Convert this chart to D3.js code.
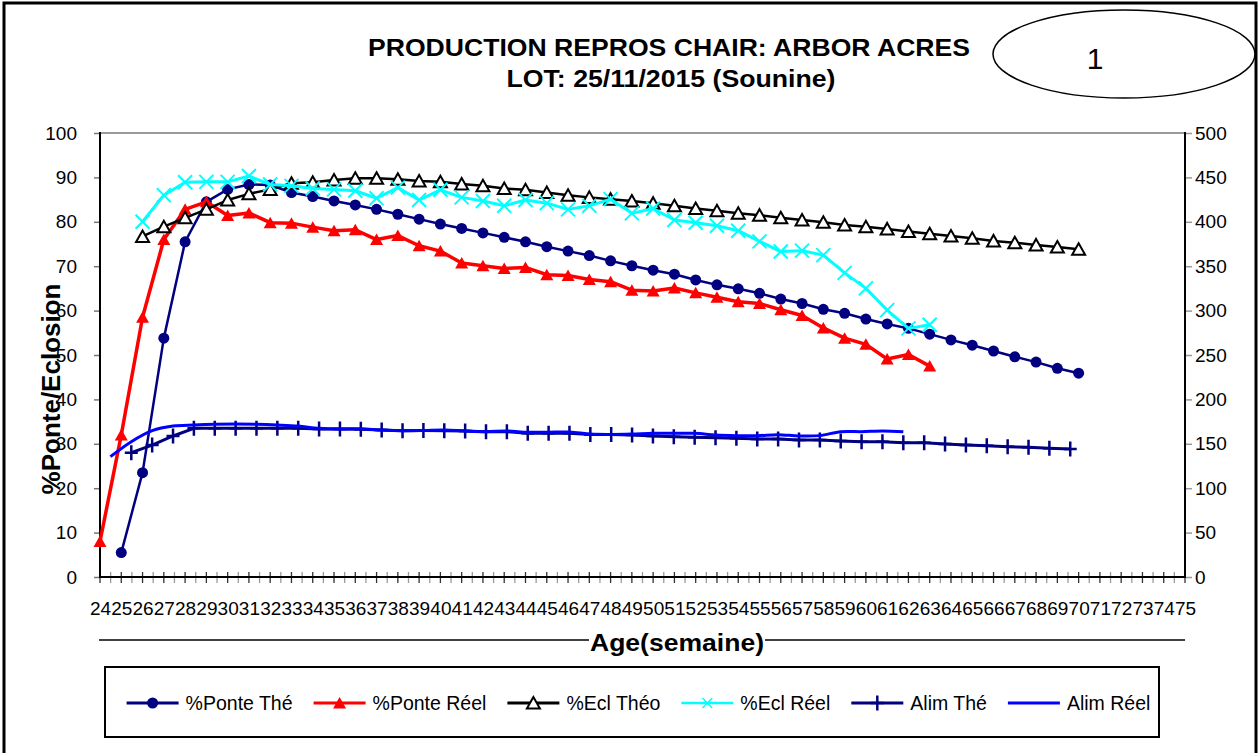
<!DOCTYPE html>
<html><head><meta charset="utf-8">
<script src="https://cdn.jsdelivr.net/npm/d3@7"></script>
<style>
body{margin:0;background:#fff}
svg{display:block}
text{font-family:"Liberation Sans",Arial,Helvetica,sans-serif;fill:#000}
</style>
</head><body>
<svg id="c" width="1258" height="753"></svg>
<script>
// ---------- DATA ----------
const ages = [24,25,26,27,28,29,30,31,32,33,34,35,36,37,38,39,40,41,42,43,44,45,46,47,48,49,
              50,51,52,53,54,55,56,57,58,59,60,61,62,63,64,65,66,67,68,69,70,71,72,73,74,75];
const leftTicks = [0,10,20,30,40,50,60,70,80,90,100];
const rightTicks = [0,50,100,150,200,250,300,350,400,450,500];

// %Ponte Thé (ages 25..70)
const ponteTheStart = 25;
const ponteThe = [5.5,23.5,53.8,75.5,84.5,87.3,88.4,88.3,86.6,85.7,84.7,83.8,82.8,81.7,80.6,79.5,78.5,77.5,
  76.5,75.5,74.4,73.4,72.4,71.2,70.1,69.1,68.2,66.9,65.8,64.9,63.9,62.6,61.6,60.3,59.4,58.1,57,56,54.7,53.4,
  52.2,50.9,49.6,48.4,47,45.9];
// %Ponte Réel (ages 24..63)
const ponteReelStart = 24;
const ponteReel = [8,32,58.5,76,82.8,84.5,81.4,82,79.8,79.7,78.8,78,78.2,76,76.9,74.6,73.4,70.7,70.1,69.5,
  69.7,68.1,67.9,67,66.5,64.6,64.4,65.1,64,63,62,61.6,60.2,58.9,56.1,53.8,52.4,49.1,50.1,47.5];
// %Ecl Théo (ages 26..70)
const eclTheoStart = 26;
const eclTheo = [76.7,78.9,80.9,82.8,84.9,86.3,87.3,88.7,88.9,89.4,89.8,89.8,89.6,89.2,89,88.5,88.1,87.5,
  87.2,86.6,86,85.5,85.1,84.7,84.2,83.6,83,82.5,81.9,81.5,80.9,80.4,79.9,79.3,78.9,78.4,77.8,77.3,76.8,76.3,
  75.7,75.3,74.8,74.3,73.8];
// %Ecl Réel (ages 26..63)
const eclReelStart = 26;
const eclReel = [80,86,88.9,89,89,90.3,88.4,88.1,87.5,87.3,87,85.3,87.7,84.9,87.2,85.5,84.7,83.6,84.9,84.2,
  82.8,83.6,85.1,81.9,83,80.4,79.8,79.1,78,75.6,73.3,73.5,72.5,68.5,65,60.1,56,56.8];
// Alim Thé (right axis, ages 25..70)
const alimTheStart = 25;
const alimThe = [140,148.6,158.8,167.4,167.4,167.4,167.4,167.4,167.4,166.7,166.7,166.3,165.5,164.8,165,164.8,
  164.4,163.7,163.7,161.8,161.8,161.8,160.6,160.6,159.9,158.8,158,157.3,156.9,156.2,155.4,155.4,154.3,154.3,
  153.2,152.4,152.4,151.3,151.3,149.8,148.6,147.9,146.8,146,144.9,144.1];
// Alim Réel (right axis, ages 24..62)
const alimReelStart = 24;
const alimReel = [135.5,152.4,164.8,170,171.2,172,172.3,172,171.2,170,167.4,166.7,167,165.5,164.8,165,165.5,
  164.4,163.7,164.4,163,163,163.3,161,160.6,161,161.8,161.8,161.8,159.9,159.2,159.2,160.3,158.8,159.2,163.7,
  163.7,164.4,163.7];

const seriesNames = ["%Ponte Thé","%Ponte Réel","%Ecl Théo","%Ecl Réel","Alim Thé","Alim Réel"];
const titleLine1 = "PRODUCTION REPROS CHAIR: ARBOR ACRES";
const titleLine2 = "LOT: 25/11/2015 (Sounine)";
const badge = "1";
const yTitle = "%Ponte/Eclosion";
const xTitle = "Age(semaine)";

// ---------- CHART ----------
const svg = d3.select('#c');
const P = {l:100, r:1185, t:133, b:577};
const xP = d3.scalePoint().domain(ages).range([P.l, P.r]);
const xS = d3.scaleBand().domain(ages).range([P.l, P.r]);
const xSc = a => xS(a) + xS.bandwidth()/2;
const yL = d3.scaleLinear().domain([0,100]).range([P.b, P.t]);
const yR = d3.scaleLinear().domain([0,500]).range([P.b, P.t]);

const toPts = (start, arr) => arr.map((v,i)=>({age:start+i, v}));

// outer frame
svg.append('rect').attr('x',4).attr('y',3).attr('width',1252).attr('height',800)
  .attr('fill','none').attr('stroke','#000').attr('stroke-width',3);

// titles
svg.append('text').attr('x',669).attr('y',56).attr('text-anchor','middle')
  .attr('font-size',24).attr('font-weight','bold')
  .attr('textLength',602).attr('lengthAdjust','spacingAndGlyphs').text(titleLine1);
svg.append('text').attr('x',671).attr('y',87).attr('text-anchor','middle')
  .attr('font-size',24).attr('font-weight','bold')
  .attr('textLength',329).attr('lengthAdjust','spacingAndGlyphs').text(titleLine2);
svg.append('ellipse').attr('cx',1124).attr('cy',54).attr('rx',131).attr('ry',44)
  .attr('fill','none').attr('stroke','#000').attr('stroke-width',1.5);
svg.append('text').attr('x',1095).attr('y',69).attr('text-anchor','middle')
  .attr('font-size',30).text(badge);

// plot area top border
svg.append('line').attr('x1',P.l).attr('x2',P.r).attr('y1',P.t).attr('y2',P.t)
  .attr('stroke','#9a9a9a').attr('stroke-width',2);

// left axis
const gL = svg.append('g').attr('transform',`translate(${P.l},0)`)
  .call(d3.axisLeft(yL).tickValues(leftTicks).tickSize(6).tickPadding(17).tickFormat(d3.format('d')));
gL.select('.domain').remove();
gL.selectAll('line').attr('stroke','#777').attr('stroke-width',1.5);
gL.selectAll('text').attr('font-size',19).attr('font-family','"Liberation Sans",Arial,sans-serif').attr('fill','#000');

// right axis
const gR = svg.append('g').attr('transform',`translate(${P.r},0)`)
  .call(d3.axisRight(yR).tickValues(rightTicks).tickSize(7).tickPadding(3).tickFormat(d3.format('d')));
gR.select('.domain').remove();
gR.selectAll('line').attr('stroke','#999').attr('stroke-width',1.5);
gR.selectAll('text').attr('font-size',19).attr('font-family','"Liberation Sans",Arial,sans-serif').attr('fill','#000');

// bottom axis labels
const gB = svg.append('g').attr('transform',`translate(0,${P.b})`)
  .call(d3.axisBottom(xP).tickSize(0).tickPadding(24.5));
gB.select('.domain').remove();
gB.selectAll('text').attr('font-size',19).attr('font-family','"Liberation Sans",Arial,sans-serif').attr('fill','#000');

// minor ticks on x axis (half category steps)
const step = xP.step()/2;
const nT = Math.round((P.r-P.l)/step);
svg.append('g').selectAll('line').data(d3.range(nT+1)).join('line')
  .attr('x1',k=>P.l+k*step).attr('x2',k=>P.l+k*step)
  .attr('y1',P.b-5).attr('y2',P.b+6)
  .attr('stroke',k=>k%2? '#9a9a9a':'#333').attr('stroke-width',1.3);

// axis lines
svg.append('line').attr('x1',P.l).attr('x2',P.l).attr('y1',P.t-1).attr('y2',P.b)
  .attr('stroke','#000').attr('stroke-width',2);
svg.append('line').attr('x1',P.r).attr('x2',P.r).attr('y1',P.t-1).attr('y2',P.b+1)
  .attr('stroke','#000').attr('stroke-width',2);
svg.append('line').attr('x1',P.l-1).attr('x2',P.r+1).attr('y1',P.b).attr('y2',P.b)
  .attr('stroke','#000').attr('stroke-width',2);

// y title
svg.append('text').attr('transform','translate(60,389) rotate(-90)')
  .attr('text-anchor','middle').attr('font-size',26).attr('font-weight','bold').text(yTitle);

// x title and line
const xt = svg.append('text').attr('x',677).attr('y',651).attr('text-anchor','middle')
  .attr('font-size',24).attr('font-weight','bold')
  .attr('textLength',174).attr('lengthAdjust','spacingAndGlyphs').text(xTitle);
const xb = xt.node().getBBox();
svg.insert('line','text').attr('x1',99).attr('x2',xb.x-1).attr('y1',640).attr('y2',640)
  .attr('stroke','#000').attr('stroke-width',1.5);
svg.insert('line','text').attr('x1',xb.x+xb.width+1).attr('x2',P.r).attr('y1',640).attr('y2',640)
  .attr('stroke','#000').attr('stroke-width',1.5);

// marker paths
const MK = {
  circle: d3.symbol(d3.symbolCircle, 95)(),
  tri: 'M0,-6L6.5,5.5L-6.5,5.5Z',
  x: 'M-7,-7L7,7M-7,7L7,-7',
  plus: 'M-6.5,0L6.5,0M0,-7.5L0,7.5'
};

const series = [
  {name:seriesNames[0], pts:toPts(ponteTheStart,ponteThe), x:d=>xP(d.age), y:d=>yL(d.v),
   color:'#000080', lw:2.5, mk:'circle', fill:'#000080', stroke:'none', msw:0},
  {name:seriesNames[1], pts:toPts(ponteReelStart,ponteReel), x:d=>xP(d.age), y:d=>yL(d.v),
   color:'#ff0000', lw:3.5, mk:'tri', fill:'#ff0000', stroke:'none', msw:0},
  {name:seriesNames[2], pts:toPts(eclTheoStart,eclTheo), x:d=>xP(d.age), y:d=>yL(d.v),
   color:'#000000', lw:2.5, mk:'tri', fill:'#ffffff', stroke:'#000', msw:2},
  {name:seriesNames[3], pts:toPts(eclReelStart,eclReel), x:d=>xP(d.age), y:d=>yL(d.v),
   color:'#00ffff', lw:3, mk:'x', fill:'none', stroke:'#00ffff', msw:2},
  {name:seriesNames[4], pts:toPts(alimTheStart,alimThe), x:d=>xSc(d.age), y:d=>yR(d.v),
   color:'#000080', lw:3, mk:'plus', fill:'none', stroke:'#000080', msw:2.5},
  {name:seriesNames[5], pts:toPts(alimReelStart,alimReel), x:d=>xSc(d.age), y:d=>yR(d.v),
   color:'#0000ff', lw:3, mk:null, curve:d3.curveCatmullRom.alpha(0.5)}
];

const gPlot = svg.append('g');
series.forEach(s=>{
  const line = d3.line().x(s.x).y(s.y).curve(s.curve||d3.curveLinear);
  gPlot.append('path').datum(s.pts).attr('d',line).attr('fill','none')
    .attr('stroke',s.color).attr('stroke-width',s.lw).attr('stroke-linejoin','round');
  if(s.mk){
    gPlot.append('g').selectAll('path').data(s.pts).join('path')
      .attr('d',MK[s.mk]).attr('transform',d=>`translate(${s.x(d)},${s.y(d)})`)
      .attr('fill',s.fill).attr('stroke',s.stroke).attr('stroke-width',s.msw);
  }
});

// legend
svg.append('rect').attr('x',105).attr('y',667).attr('width',1054).attr('height',70)
  .attr('fill','#fff').attr('stroke','#000').attr('stroke-width',2);
let cx = 126.6;
const ly = 703;
series.forEach(s=>{
  const g = svg.append('g');
  g.append('line').attr('x1',cx).attr('x2',cx+52).attr('y1',ly).attr('y2',ly)
    .attr('stroke',s.color).attr('stroke-width',s.mk==='x'?2.5:3);
  if(s.mk){
    g.append('path').attr('d',MK[s.mk]).attr('transform',`translate(${cx+26},${ly})${s.mk==='x'?' scale(0.7)':''}`)
      .attr('fill',s.fill).attr('stroke',s.stroke).attr('stroke-width',s.msw);
  }
  const t = g.append('text').attr('x',cx+59).attr('y',ly+7).attr('font-size',19.5).text(s.name);
  cx = cx + 59 + t.node().getComputedTextLength() + 21;
});
</script>
</body></html>
